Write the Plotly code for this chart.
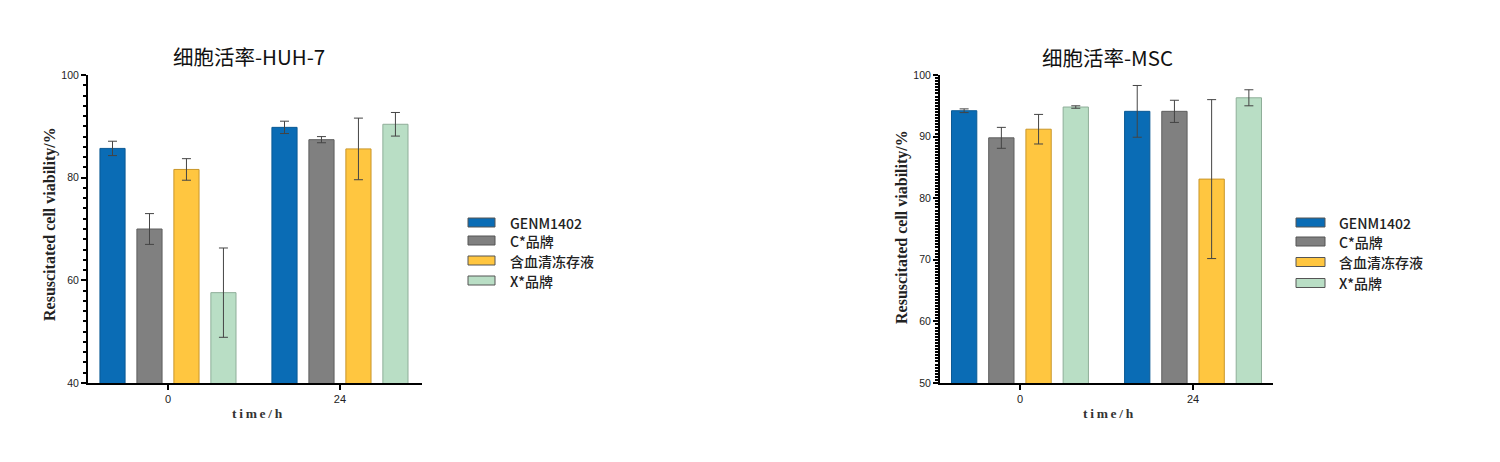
import plotly.graph_objects as go

# ---- data ----
time_points = ["0", "24"]
series_names = ["GENM1402", "C*品牌", "含血清冻存液", "X*品牌"]
series_colors = ["#0A6CB5", "#808080", "#FFC640", "#B9DEC5"]
series_edges = ["#0B5A95", "#5E5E5E", "#C9962A", "#8FAE99"]

huh7_mean = [[85.7, 89.8], [70.0, 87.4], [81.6, 85.6], [57.6, 90.4]]
huh7_err = [[1.4, 1.2], [3.0, 0.6], [2.1, 6.0], [8.7, 2.3]]

msc_mean = [[94.2, 94.1], [89.8, 94.1], [91.2, 83.1], [94.8, 96.3]]
msc_err = [[0.3, 4.2], [1.7, 1.8], [2.4, 12.9], [0.2, 1.3]]

title_left = "细胞活率-HUH-7"
title_right = "细胞活率-MSC"
y_title = "Resuscitated cell viability/%"
x_title = "t\u2009i\u2009m\u2009e\u2009/\u2009h"

W, H = 1500, 462
OFF = 8  # page body margin compensation
CJK = "Noto Sans CJK SC"
SERIF = "Liberation Serif"
SANS = "Liberation Sans"

fig = go.Figure()

for i, name in enumerate(series_names):
    fig.add_trace(go.Bar(
        x=time_points, y=huh7_mean[i], name=name,
        marker=dict(color=series_colors[i], line=dict(color=series_edges[i], width=1)),
        error_y=dict(type="data", array=huh7_err[i], color="#444444", thickness=1, width=4.5),
        xaxis="x", yaxis="y",
    ))
for i, name in enumerate(series_names):
    fig.add_trace(go.Bar(
        x=time_points, y=msc_mean[i], name=name,
        marker=dict(color=series_colors[i], line=dict(color=series_edges[i], width=1)),
        error_y=dict(type="data", array=msc_err[i], color="#444444", thickness=1, width=4.5),
        xaxis="x2", yaxis="y2",
    ))


def px_x(p):
    return (p - OFF) / W


def px_y(p):
    return 1 - (p - OFF) / H


ydom = [px_y(383), px_y(75)]

xaxis_common = dict(
    type="category", showline=True, linecolor="black", linewidth=2,
    ticks="outside", ticklen=5, tickwidth=1.5, tickcolor="black",
    tickfont=dict(family=SANS, size=11, color="#222222"),
    showgrid=False, zeroline=False, fixedrange=True, automargin=False,
)
yaxis_common = dict(
    showline=True, linecolor="black", linewidth=2,
    ticks="outside", ticklen=5, tickwidth=1.5, tickcolor="black",
    tickfont=dict(family=SANS, size=10.5, color="#222222"),
    showgrid=False, zeroline=False, fixedrange=True, automargin=False,
)

fig.update_layout(
    width=W, height=H, autosize=False,
    margin=dict(l=0, r=0, t=0, b=0, pad=0, autoexpand=False),
    paper_bgcolor="white", plot_bgcolor="white",
    barmode="group", bargap=0.14, bargroupgap=0.32,
    showlegend=False,
    xaxis=dict(domain=[px_x(88), px_x(422)], range=[-0.465, 1.477], anchor="y", **xaxis_common),
    yaxis=dict(domain=ydom, range=[40, 100], dtick=20, anchor="x",
               minor=dict(dtick=2, ticks="outside", ticklen=3, tickcolor="black", tickwidth=1.5),
               **yaxis_common),
    xaxis2=dict(domain=[px_x(940), px_x(1273)], range=[-0.462, 1.462], anchor="y2", **xaxis_common),
    yaxis2=dict(domain=ydom, range=[50, 100], dtick=10, anchor="x2",
                minor=dict(dtick=0.5, ticks="outside", ticklen=3, tickcolor="black", tickwidth=1.5),
                **yaxis_common),
)

annotations = [
    dict(text=title_left, x=px_x(249), y=px_y(56), font=dict(family=CJK, size=20.5, color="#111111")),
    dict(text=title_right, x=px_x(1107), y=px_y(57), font=dict(family=CJK, size=20.5, color="#111111")),
    dict(text="<b>" + y_title + "</b>", x=px_x(50), y=px_y(224), textangle=-90,
         font=dict(family=SERIF, size=16, color="#222222")),
    dict(text="<b>" + y_title + "</b>", x=px_x(902), y=px_y(227), textangle=-90,
         font=dict(family=SERIF, size=16, color="#222222")),
    dict(text="<b>" + x_title + "</b>", x=px_x(257), y=px_y(413),
         font=dict(family=SERIF, size=13.5, color="#333333")),
    dict(text="<b>" + x_title + "</b>", x=px_x(1108), y=px_y(413),
         font=dict(family=SERIF, size=13.5, color="#333333")),
]

# custom legends (wide rectangular swatches)
shapes = []
legend_specs = [
    (468, 495, 508, [222.5, 240.5, 260.5, 280.5]),
    (1296, 1325, 1337, [222.5, 241.5, 262, 283]),
]
for sx0, sx1, tx, rows in legend_specs:
    for i, name in enumerate(series_names):
        yc = rows[i]
        shapes.append(dict(type="rect", xref="paper", yref="paper",
                           x0=px_x(sx0), x1=px_x(sx1), y0=px_y(yc + 4.5), y1=px_y(yc - 4.5),
                           fillcolor=series_colors[i], line=dict(color="#555555", width=1)))
        annotations.append(dict(text=name, x=px_x(tx), y=px_y(yc), xanchor="left",
                                font=dict(family=CJK, size=14, color="#222222", weight=500)))

for a in annotations:
    a.setdefault("xanchor", "center")
    a.update(xref="paper", yref="paper", showarrow=False, yanchor="middle")
fig.update_layout(annotations=annotations, shapes=shapes)

fig.write_html("out.html")
